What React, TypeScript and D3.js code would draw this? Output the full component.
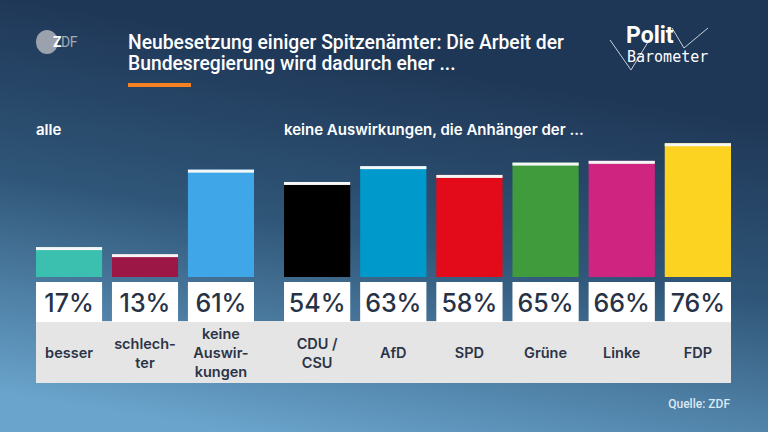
import { useEffect, useRef } from "react";
import * as d3 from "d3";

const W = 768;
const H = 432;

// Gruppe "alle"
const allCats = ["besser", "schlechter", "keine"];
const allLabels = [["besser"], ["schlech-", "ter"], ["keine", "Auswir-", "kungen"]];
const allValues = [17, 13, 61];
const allColors = ["#3bbfae", "#9c1746", "#3fa7e8"];

// keine Auswirkungen, die Anhänger der ...
const partyCats = ["CDU/CSU", "AfD", "SPD", "Grüne", "Linke", "FDP"];
const partyLabels = [["CDU /", "CSU"], ["AfD"], ["SPD"], ["Grüne"], ["Linke"], ["FDP"]];
const partyValues = [54, 63, 58, 65, 66, 76];
const partyColors = ["#000000", "#0099cc", "#e30b19", "#409b3d", "#cf2580", "#fdd321"];

const titleLines = [
  "Neubesetzung einiger Spitzenämter: Die Arbeit der",
  "Bundesregierung wird dadurch eher ...",
];

const App = () => {
  const svgRef = useRef<SVGSVGElement>(null);

  useEffect(() => {
    const svg = d3.select(svgRef.current);
    svg.selectAll("*").remove();

    // background
    const defs = svg.append("defs");
    const grad = defs
      .append("linearGradient")
      .attr("id", "bg")
      .attr("x1", "0.55")
      .attr("y1", "0.15")
      .attr("x2", "0.3")
      .attr("y2", "1");
    grad.append("stop").attr("offset", "0").attr("stop-color", "#1f3757");
    grad.append("stop").attr("offset", "0.45").attr("stop-color", "#2f5678");
    grad.append("stop").attr("offset", "1").attr("stop-color", "#6aa4cc");
    svg.append("rect").attr("width", W).attr("height", H).attr("fill", "url(#bg)");

    // ZDF logo
    const logo = svg.append("g");
    logo.append("ellipse").attr("cx", 47).attr("cy", 42).attr("rx", 11).attr("ry", 12).attr("fill", "#9aa3ad");
    const zdf = logo
      .append("text")
      .attr("x", 53)
      .attr("y", 47)
      .attr("font-family", "Roboto, sans-serif")
      .attr("font-size", 14)
      .attr("font-weight", 700)
      .attr("letter-spacing", -0.5);
    zdf.append("tspan").attr("fill", "#ffffff").text("Z");
    zdf.append("tspan").attr("fill", "#a4acb6").attr("font-weight", 400).text("DF");

    svg
      .append("g")
      .selectAll("text")
      .data(titleLines)
      .join("text")
      .attr("x", 128)
      .attr("y", (_d, i) => 49 + i * 21)
      .attr("font-family", "Roboto, sans-serif")
      .attr("font-size", 19.3)
      .attr("font-weight", 500)
      .attr("fill", "#ffffff")
      .text((d) => d);

    svg.append("rect").attr("x", 128).attr("y", 83).attr("width", 63).attr("height", 4).attr("fill", "#f58220");

    // Politbarometer logo
    const pb = svg.append("g");
    pb.append("path")
      .attr("d", "M610,40 L631,70 L648,42 M672,28 L684,48 L708,28")
      .attr("stroke", "#c7d0da")
      .attr("stroke-width", 1)
      .attr("fill", "none");
    pb.append("text")
      .attr("x", 626)
      .attr("y", 43)
      .attr("font-family", "Roboto, sans-serif")
      .attr("font-size", 23)
      .attr("font-weight", 700)
      .attr("fill", "#fff")
      .text("Polit");
    pb.append("text")
      .attr("x", 627)
      .attr("y", 62)
      .attr("font-family", "'DejaVu Sans Mono', monospace")
      .attr("font-size", 15)
      .attr("fill", "#fff")
      .text("Barometer");

    // section labels
    const sec = svg.append("g")
      .attr("font-family", "Inter, sans-serif")
      .attr("font-size", 15)
      .attr("font-weight", 600)
      .attr("fill", "#fff");
    sec.append("text").attr("x", 36).attr("y", 135).text("alle");
    sec.append("text").attr("x", 284).attr("y", 135).text("keine Auswirkungen, die Anhänger der ...");

    const base = 277;
    const y = d3.scaleLinear().domain([0, 100]).range([base, base - 176]);

    const xAll = d3.scaleBand().domain(allCats).range([36, 254]).paddingInner(0.13).paddingOuter(0);
    const xParty = d3.scaleBand().domain(partyCats).range([284, 731]).paddingInner(0.13).paddingOuter(0);

    // grey label panel
    svg.append("rect").attr("x", 36).attr("y", 321).attr("width", 731 - 36).attr("height", 62).attr("fill", "#e6e5e5");

    const groups = [
      { x: xAll, cats: allCats, values: allValues, colors: allColors, labels: allLabels },
      { x: xParty, cats: partyCats, values: partyValues, colors: partyColors, labels: partyLabels },
    ];

    groups.forEach((gr) => {
      const rows = gr.cats.map((c, i) => ({
        cat: c,
        value: gr.values[i],
        color: gr.colors[i],
        label: gr.labels[i],
      }));
      const g = svg.append("g");
      const bw = gr.x.bandwidth();

      // bars
      g.selectAll("rect.bar")
        .data(rows)
        .join("rect")
        .attr("class", "bar")
        .attr("x", (d) => gr.x(d.cat)!)
        .attr("y", (d) => y(d.value))
        .attr("width", bw)
        .attr("height", (d) => base - y(d.value))
        .attr("fill", (d) => d.color);

      // white cap
      g.selectAll("rect.cap")
        .data(rows)
        .join("rect")
        .attr("class", "cap")
        .attr("x", (d) => gr.x(d.cat)!)
        .attr("y", (d) => y(d.value))
        .attr("width", bw)
        .attr("height", 3)
        .attr("fill", "#f4f7f6");

      // value boxes
      g.selectAll("rect.box")
        .data(rows)
        .join("rect")
        .attr("class", "box")
        .attr("x", (d) => gr.x(d.cat)!)
        .attr("y", 282)
        .attr("width", bw)
        .attr("height", 40)
        .attr("fill", "#ffffff");

      g.selectAll("text.val")
        .data(rows)
        .join("text")
        .attr("class", "val")
        .attr("x", (d) => gr.x(d.cat)! + bw / 2)
        .attr("y", 312)
        .attr("text-anchor", "middle")
        .attr("font-family", "Inter, 'Open Sans', sans-serif")
        .attr("font-size", 25)
        .attr("font-weight", 500)
        .attr("fill", "#283246")
        .text((d) => `${d.value}%`);

      // category labels
      const lab = g
        .selectAll("text.lab")
        .data(rows)
        .join("text")
        .attr("class", "lab")
        .attr("text-anchor", "middle")
        .attr("font-family", "Inter, 'Open Sans', sans-serif")
        .attr("font-size", 14.5)
        .attr("font-weight", 600)
        .attr("fill", "#2b3447");
      lab.each(function (d) {
        const n = d.label.length;
        const t = d3.select(this);
        d.label.forEach((line, i) => {
          t.append("tspan")
            .attr("x", gr.x(d.cat)! + bw / 2)
            .attr("y", 358 + (i - (n - 1) / 2) * 19)
            .text(line);
        });
      });
    });

    svg
      .append("text")
      .attr("x", 730)
      .attr("y", 408)
      .attr("text-anchor", "end")
      .attr("font-family", "Roboto, sans-serif")
      .attr("font-size", 12)
      .attr("font-weight", 500)
      .attr("fill", "#dbe8f3")
      .text("Quelle: ZDF");
  }, []);

  return (
    <svg
      ref={svgRef}
      width={W}
      height={H}
      style={{ position: "absolute", top: 0, left: 0, display: "block" }}
    />
  );
};

export default App;
